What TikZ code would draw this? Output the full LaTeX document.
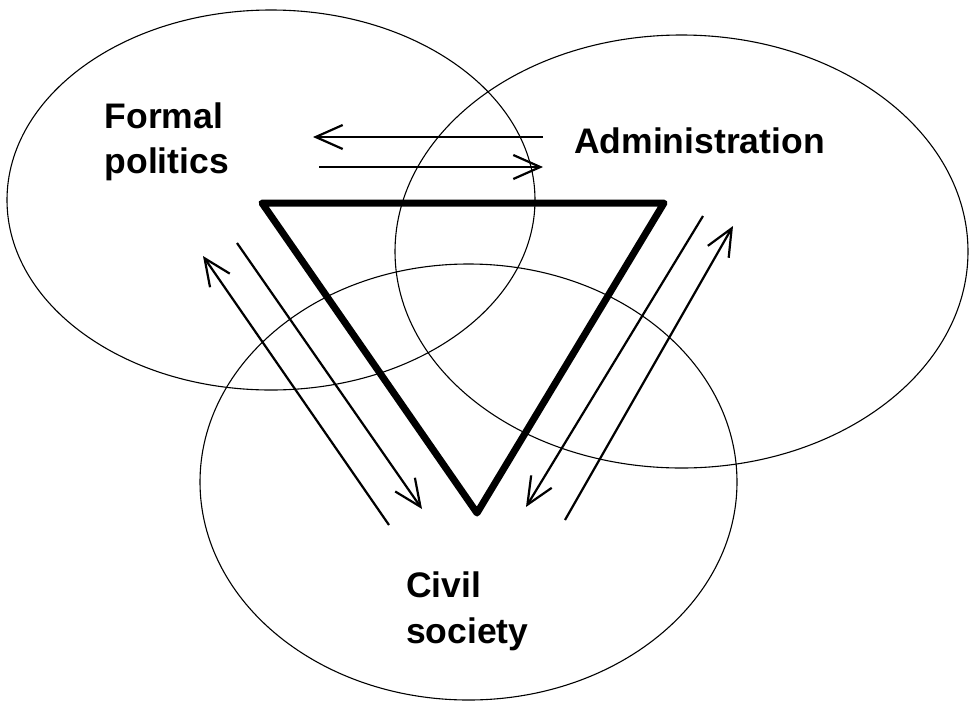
\documentclass[tikz,border=0pt]{standalone}
\usepackage{fontspec}
\setmainfont{Liberation Sans}
\usetikzlibrary{arrows.meta,shapes.geometric}
\begin{document}
\begin{tikzpicture}[x=1pt,y=-1pt,
  sphere/.style={draw, ellipse, line width=1.1pt, inner sep=0pt, outer sep=0pt},
  lbl/.style={anchor=base west, inner sep=0pt, align=left, font=\fontsize{35.5}{45.5}\selectfont\bfseries},
  flow/.style={line width=2.2pt, -{Straight Barb[length=27pt,width=24pt]}},
  tri/.style={line width=7pt, line join=round}]
\useasboundingbox (0,0) rectangle (969,702);
% spheres
\node[sphere, minimum width=528pt, minimum height=380pt] (fp) at (271,200) {};
\node[sphere, minimum width=573pt, minimum height=433pt] (ad) at (681.5,251.5) {};
\node[sphere, minimum width=537pt, minimum height=436pt] (cs) at (468.5,482) {};
% labels (base anchor = baseline of the last line)
\node[lbl] (fpl) at (104.5,173.5) {Formal\\politics};
\node[lbl] (adl) at (574,153) {Administration};
\node[lbl] (csl) at (406,643) {Civil\\society};
% triangle
\coordinate (t1) at (262,203);
\coordinate (t2) at (664,203);
\coordinate (t3) at (477,513);
\draw[tri] (t1) -- (t2) -- (t3) -- cycle;
% arrow end points
\coordinate (a1s) at (543,137); \coordinate (a1e) at (313,137);
\coordinate (a2s) at (319,167); \coordinate (a2e) at (543,167);
\coordinate (a3s) at (389,525); \coordinate (a3e) at (203,256);
\coordinate (a4s) at (237,243); \coordinate (a4e) at (422,509);
\coordinate (a5s) at (703,216); \coordinate (a5e) at (526,507);
\coordinate (a6s) at (565,520); \coordinate (a6e) at (733,226);
\draw[flow] (a1s) -- (a1e);
\draw[flow] (a2s) -- (a2e);
\draw[flow] (a3s) -- (a3e);
\draw[flow] (a4s) -- (a4e);
\draw[flow] (a5s) -- (a5e);
\draw[flow] (a6s) -- (a6e);
\end{tikzpicture}
\end{document}
